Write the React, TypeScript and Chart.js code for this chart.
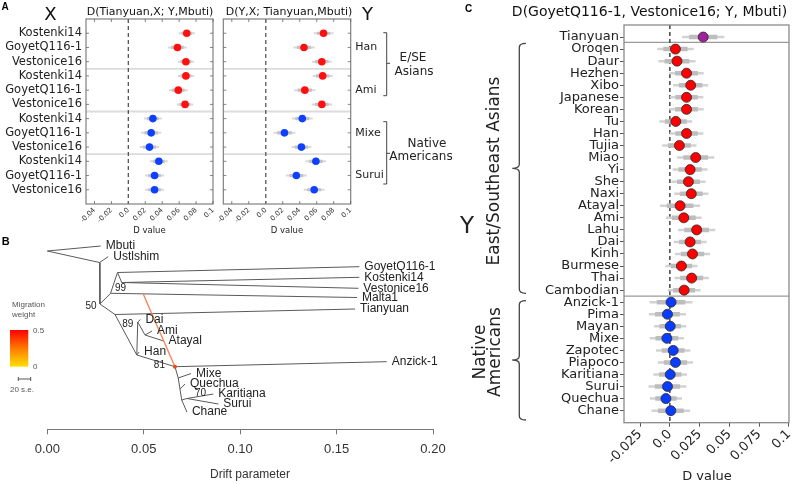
import React, { useEffect, useRef } from 'react';
import { Chart, registerables } from 'chart.js';

Chart.register(...registerables);

const DEJAVU = '"DejaVu Sans", "Liberation Sans", sans-serif';
const HELV = '"Liberation Sans", Arial, sans-serif';

/* ---------------- Panel A data ---------------- */
const aRowLabels = ['Kostenki14', 'GoyetQ116-1', 'Vestonice16', 'Kostenki14', 'GoyetQ116-1', 'Vestonice16',
  'Kostenki14', 'GoyetQ116-1', 'Vestonice16', 'Kostenki14', 'GoyetQ116-1', 'Vestonice16'];
const aGroupLabels = ['Han', 'Ami', 'Mixe', 'Surui'];
const aRowRegion = ['asia', 'asia', 'asia', 'asia', 'asia', 'asia', 'america', 'america', 'america', 'america', 'america', 'america'];
const aLeftValues = [0.069, 0.058, 0.068, 0.068, 0.059, 0.067, 0.029, 0.027, 0.025, 0.036, 0.031, 0.031];
const aLeftSE = [0.0032, 0.0037, 0.0032, 0.0032, 0.0037, 0.0032, 0.0035, 0.004, 0.0038, 0.0035, 0.0037, 0.0037];
const aRightValues = [0.068, 0.045, 0.066, 0.067, 0.046, 0.066, 0.043, 0.022, 0.042, 0.059, 0.036, 0.057];
const aRightSE = [0.0039, 0.0042, 0.0039, 0.0039, 0.0042, 0.004, 0.0041, 0.0043, 0.0039, 0.004, 0.0041, 0.0041];
const aXTicks = [-0.04, -0.02, 0, 0.02, 0.04, 0.06, 0.08, 0.1];
const aXTickLabels = ['-0.04', '-0.02', '0.0', '0.02', '0.04', '0.06', '0.08', '0.1'];
const aSeparators = [2.5, 5.5, 8.5];

/* ---------------- Panel B data (TreeMix tree) ---------------- */
const treeNodes = ['root', 'Mbuti', 'nA', 'Ustlshim', 'n50', 'nB', 'nC', 'nD', 'GoyetQ116-1', 'Kostenki14', 'Vestonice16',
  'Malta1', 'nE', 'Tianyuan', 'nG', 'n89', 'Dai', 'nH', 'Ami', 'Atayal', 'Han', 'n81', 'Anzick-1', 'nI', 'Mixe', 'nJ',
  'Quechua', 'nK', 'n70', 'Karitiana', 'Surui', 'Chane'];
const treeDrift = [0, 0.0277, 0.0271, 0.0316, 0.0273, 0.0328, 0.0364, 0.0386, 0.1618, 0.1618, 0.1613, 0.1606, 0.0351,
  0.1596, 0.0464, 0.0469, 0.0483, 0.0507, 0.0543, 0.0603, 0.0476, 0.0662, 0.176, 0.0679, 0.0745, 0.0688, 0.0714,
  0.0697, 0.0724, 0.0861, 0.0887, 0.0724];
const treeY = [1.1, 0.6, 2.25, 1.67, 6.4, 5.33, 3.25, 4.25, 2.67, 3.73, 4.83, 5.75, 7.45, 6.9, 11.5, 8.2, 7.95, 9.5, 9.1,
  10.1, 11.2, 12.67, 12.17, 13.8, 13.35, 14.9, 14.4, 16.0, 15.85, 15.4, 16.4, 17.2];
const treeParents = ['root', 'root', 'nA', 'nA', 'n50', 'n50', 'nB', 'nB', 'nC', 'nC', 'nD', 'nD', 'nE', 'nE', 'nG', 'nG',
  'nG', 'n89', 'n89', 'nH', 'nH', 'n81', 'n81', 'nI', 'nI', 'nJ', 'nJ', 'nK', 'nK', 'n70', 'n70'];
const treeChildren = ['Mbuti', 'nA', 'Ustlshim', 'n50', 'nB', 'nE', 'nC', 'Malta1', 'GoyetQ116-1', 'nD', 'Kostenki14',
  'Vestonice16', 'Tianyuan', 'nG', 'n89', 'Han', 'n81', 'Dai', 'nH', 'Ami', 'Atayal', 'Anzick-1', 'nI', 'Mixe', 'nJ',
  'Quechua', 'nK', 'n70', 'Chane', 'Karitiana', 'Surui'];
const migrationSourceDrift = 0.0498;
const migrationSourceY = 5.43;
const migrationTarget = 'n81';
const supportTexts = ['50', '99', '89', '81', '70'];
const supportDrift = [0.0256, 0.0351, 0.0446, 0.061, 0.0766];
const supportY = [6.67, 4.85, 8.4, 12.5, 15.33];
const supportAlign = ['right', 'left', 'right', 'right', 'left'];
const driftTicks = [0, 0.05, 0.1, 0.15, 0.2];

/* ---------------- Panel C data ---------------- */
const cLabels = ['Tianyuan', 'Oroqen', 'Daur', 'Hezhen', 'Xibo', 'Japanese', 'Korean', 'Tu', 'Han', 'Tujia', 'Miao', 'Yi',
  'She', 'Naxi', 'Atayal', 'Ami', 'Lahu', 'Dai', 'Kinh', 'Burmese', 'Thai', 'Cambodian', 'Anzick-1', 'Pima', 'Mayan',
  'Mixe', 'Zapotec', 'Piapoco', 'Karitiana', 'Surui', 'Quechua', 'Chane'];
const cGroup = ['ancient', 'asia', 'asia', 'asia', 'asia', 'asia', 'asia', 'asia', 'asia', 'asia', 'asia', 'asia', 'asia',
  'asia', 'asia', 'asia', 'asia', 'asia', 'asia', 'asia', 'asia', 'asia', 'america', 'america', 'america', 'america',
  'america', 'america', 'america', 'america', 'america', 'america'];
const cValues = [0.028, 0.0047, 0.006, 0.014, 0.0175, 0.014, 0.014, 0.005, 0.014, 0.008, 0.0217, 0.017, 0.0156, 0.018,
  0.0086, 0.0117, 0.0225, 0.017, 0.019, 0.0097, 0.0183, 0.012, 0.001, -0.002, 0.0003, -0.0025, 0.0028, 0.0047, 0.0003,
  -0.002, -0.0033, 0.0008];
const cSE = [0.0059, 0.0051, 0.0052, 0.0048, 0.0049, 0.0047, 0.0048, 0.0046, 0.0047, 0.0048, 0.0052, 0.0049, 0.0048,
  0.0048, 0.0056, 0.005, 0.0052, 0.0046, 0.0049, 0.0045, 0.0048, 0.0046, 0.006, 0.0052, 0.0045, 0.0048, 0.0048, 0.0049,
  0.0047, 0.0053, 0.0045, 0.0054];
const cXTicks = [-0.025, 0, 0.025, 0.05, 0.075, 0.1];
const cXTickLabels = ['-0.025', '0.0', '0.025', '0.05', '0.075', '0.1'];
const cSeparators = [0.45, 21.5];

/* ---------------- helpers ---------------- */
type Pt = { x: number; y: number | null };

function errorBars(values: number[], se: number[], k: number): Pt[] {
  const pts: Pt[] = [];
  values.forEach((v, i) => {
    pts.push({ x: v - k * se[i], y: i }, { x: v + k * se[i], y: i }, { x: v, y: null });
  });
  return pts;
}

function hLines(rows: number[], xmin: number, xmax: number): Pt[] {
  const pts: Pt[] = [];
  rows.forEach((r) => {
    pts.push({ x: xmin, y: r }, { x: xmax, y: r }, { x: xmin, y: null });
  });
  return pts;
}

function txt(ctx: CanvasRenderingContext2D, s: string, x: number, y: number, font: string, color = '#222',
  align: CanvasTextAlign = 'center', baseline: CanvasTextBaseline = 'middle', rot = 0) {
  ctx.save();
  ctx.font = font;
  ctx.fillStyle = color;
  ctx.textAlign = align;
  ctx.textBaseline = baseline;
  ctx.translate(x, y);
  if (rot) ctx.rotate(rot);
  ctx.fillText(s, 0, 0);
  ctx.restore();
}

function seg(ctx: CanvasRenderingContext2D, x1: number, y1: number, x2: number, y2: number) {
  ctx.beginPath();
  ctx.moveTo(x1, y1);
  ctx.lineTo(x2, y2);
  ctx.stroke();
}

const RED = '#ff1010';
const BLUE = '#1040ff';

/* ---------------- Panel A config ---------------- */
function panelA(side: 'left' | 'right'): any {
  const values = side === 'left' ? aLeftValues : aRightValues;
  const se = side === 'left' ? aLeftSE : aRightSE;
  const colors = aRowRegion.map((r) => (r === 'asia' ? RED : BLUE));
  const rows = values.map((_, i) => i);
  const padLeft = side === 'left' ? 0 : 223.3;
  const padRight = side === 'left' ? 800 - 213 : 800 - 350.7;

  const framePlugin = {
    id: 'frameA' + side,
    afterDatasetsDraw(chart: any) {
      const { ctx, chartArea: a, scales } = chart;
      ctx.save();
      ctx.strokeStyle = '#808080';
      ctx.lineWidth = 1.2;
      ctx.strokeRect(a.left, a.top, a.right - a.left, a.bottom - a.top);
      ctx.lineWidth = 0.8;
      ctx.strokeStyle = '#666';
      aXTicks.forEach((v) => {
        const x = scales.x.getPixelForValue(v);
        seg(ctx, x, a.bottom, x, a.bottom - 3);
        seg(ctx, x, a.top, x, a.top + 3);
      });
      rows.forEach((r) => {
        const y = scales.y.getPixelForValue(r);
        seg(ctx, a.left, y, a.left + 3, y);
        seg(ctx, a.right, y, a.right - 3, y);
      });
      ctx.restore();
    },
    afterDraw(chart: any) {
      const { ctx, chartArea: a, scales } = chart;
      const cx = (a.left + a.right) / 2;
      txt(ctx, 'D value', cx, 231, `8.5px ${DEJAVU}`, '#222');
      if (side === 'left') {
        txt(ctx, 'A', 1.5, 10, `bold 10px ${HELV}`, '#000', 'left', 'alphabetic');
        txt(ctx, 'X', 50.5, 15, `18px ${DEJAVU}`, '#111');
        txt(ctx, 'D(Tianyuan,X; Y,Mbuti)', 150, 12, `11px ${DEJAVU}`, '#111');
      } else {
        txt(ctx, 'D(Y,X; Tianyuan,Mbuti)', 289, 12, `11px ${DEJAVU}`, '#111');
        txt(ctx, 'Y', 367.5, 15, `18px ${DEJAVU}`, '#111');
        aGroupLabels.forEach((g, i) => {
          txt(ctx, g, a.right + 4.5, scales.y.getPixelForValue(i * 3 + 1), `11px ${DEJAVU}`, '#222', 'left');
        });
        ctx.save();
        ctx.strokeStyle = '#444';
        ctx.lineWidth = 1;
        const brackets = [[32.7, 95.7, 63.3], [121.7, 184, 153.3]];
        brackets.forEach(([t, b, m]) => {
          ctx.beginPath();
          ctx.moveTo(383.3, t);
          ctx.lineTo(386.7, t);
          ctx.lineTo(386.7, b);
          ctx.lineTo(383.3, b);
          ctx.moveTo(386.7, m);
          ctx.lineTo(390, m);
          ctx.stroke();
        });
        ctx.restore();
        txt(ctx, 'E/SE', 413, 57.5, `12px ${DEJAVU}`, '#222');
        txt(ctx, 'Asians', 414, 71.5, `12px ${DEJAVU}`, '#222');
        txt(ctx, 'Native', 427, 144, `12px ${DEJAVU}`, '#222');
        txt(ctx, 'Americans', 421, 157, `12px ${DEJAVU}`, '#222');
      }
    },
  };

  return {
    type: 'scatter',
    data: {
      datasets: [
        { data: values.map((v, i) => ({ x: v, y: i })), pointRadius: 3.8, pointBackgroundColor: colors, pointBorderWidth: 0, order: 0 },
        { data: errorBars(values, se, 2), showLine: true, pointRadius: 0, borderColor: '#c2c2c2', borderWidth: 3.2, order: 1 },
        { data: errorBars(values, se, 3), showLine: true, pointRadius: 0, borderColor: '#d9d9d9', borderWidth: 2, order: 2 },
        { data: [{ x: 0, y: -1 }, { x: 0, y: 12 }], showLine: true, pointRadius: 0, borderColor: '#555', borderWidth: 1.3, borderDash: [4, 3], order: 3 },
        { data: hLines(aSeparators, -0.05, 0.1), showLine: true, pointRadius: 0, borderColor: '#dcdcdc', borderWidth: 1.8, order: 4 },
      ],
    },
    options: {
      responsive: false,
      animation: false,
      events: [],
      layout: { padding: { top: 19, right: padRight, left: padLeft, bottom: 484 - 240 } },
      plugins: { legend: { display: false }, tooltip: { enabled: false } },
      scales: {
        x: {
          type: 'linear', min: -0.05, max: 0.1,
          afterBuildTicks: (s: any) => { s.ticks = aXTicks.map((v) => ({ value: v })); },
          afterFit: (s: any) => { s.height = 36; },
          ticks: {
            autoSkip: false, minRotation: 45, maxRotation: 45, padding: 2,
            font: { size: 7, family: DEJAVU }, color: '#333',
            callback: (_v: any, i: number) => aXTickLabels[i],
          },
          grid: { display: false, drawTicks: false, tickLength: 0 }, border: { display: false },
        },
        y: {
          type: 'linear', reverse: true, min: -1, max: 12, display: side === 'left',
          afterBuildTicks: (s: any) => { s.ticks = rows.map((v) => ({ value: v })); },
          afterFit: (s: any) => { s.width = side === 'left' ? 86 : 0; },
          ticks: {
            autoSkip: false, padding: 4, font: { size: 11.5, family: DEJAVU }, color: '#222',
            callback: (v: any) => aRowLabels[v],
          },
          grid: { display: false, drawTicks: false, tickLength: 0 }, border: { display: false },
        },
      },
    },
    plugins: [framePlugin],
  };
}

/* ---------------- Panel B config ---------------- */
function panelB(): any {
  const idx = (n: string) => treeNodes.indexOf(n);
  const edgePts: Pt[] = [];
  treeParents.forEach((p, i) => {
    const c = treeChildren[i];
    edgePts.push({ x: treeDrift[idx(p)], y: treeY[idx(p)] }, { x: treeDrift[idx(c)], y: treeY[idx(c)] }, { x: treeDrift[idx(c)], y: null });
  });
  const leaves = treeNodes.filter((n) => n !== 'root' && !treeParents.includes(n));
  const t = idx(migrationTarget);

  const plugin = {
    id: 'treeText',
    afterDraw(chart: any) {
      const { ctx, scales } = chart;
      const X = (v: number) => scales.x.getPixelForValue(v);
      const Y = (v: number) => scales.y.getPixelForValue(v);
      txt(ctx, 'B', 1.7, 245, `bold 11px ${HELV}`, '#000', 'left', 'alphabetic');
      leaves.forEach((n) => {
        const i = idx(n);
        txt(ctx, n, X(treeDrift[i]) + 5, Y(treeY[i]), `12px ${HELV}`, '#222', 'left');
      });
      supportTexts.forEach((s, i) => {
        txt(ctx, s, X(supportDrift[i]), Y(supportY[i]), `10px ${HELV}`, '#222', supportAlign[i] as CanvasTextAlign);
      });
      // migration weight legend
      txt(ctx, 'Migration', 12, 305, `8px ${HELV}`, '#555', 'left');
      txt(ctx, 'weight', 12, 315, `8px ${HELV}`, '#555', 'left');
      const g = ctx.createLinearGradient(0, 330, 0, 366.7);
      g.addColorStop(0, '#ff0000');
      g.addColorStop(0.5, '#ff7a00');
      g.addColorStop(1, '#ffe000');
      ctx.fillStyle = g;
      ctx.fillRect(10, 330, 18.3, 36.7);
      txt(ctx, '0.5', 33, 331, `8px ${HELV}`, '#555', 'left');
      txt(ctx, '0', 33, 366.5, `8px ${HELV}`, '#555', 'left');
      ctx.save();
      ctx.strokeStyle = '#555';
      ctx.lineWidth = 1;
      seg(ctx, 18.3, 379, 30.7, 379);
      seg(ctx, 18.3, 377, 18.3, 381);
      seg(ctx, 30.7, 377, 30.7, 381);
      ctx.restore();
      txt(ctx, '20 s.e.', 10, 390, `8px ${HELV}`, '#555', 'left');
      txt(ctx, 'Drift parameter', 250, 475, `12px ${HELV}`, '#333');
    },
  };

  return {
    type: 'scatter',
    data: {
      datasets: [
        {
          data: [{ x: migrationSourceDrift, y: migrationSourceY }, { x: treeDrift[t], y: treeY[t] }],
          showLine: true, borderColor: '#f5875f', borderWidth: 1.4, pointRadius: [0, 2],
          pointBackgroundColor: '#e84a1a', pointBorderWidth: 0, clip: false, order: 0,
        },
        { data: edgePts, showLine: true, pointRadius: 0, borderColor: '#5a5a5a', borderWidth: 1, clip: false, order: 1 },
      ],
    },
    options: {
      responsive: false,
      animation: false,
      events: [],
      layout: { padding: { top: 240, right: 800 - 433, left: 47.3, bottom: 0 } },
      plugins: { legend: { display: false }, tooltip: { enabled: false } },
      scales: {
        x: {
          type: 'linear', min: 0, max: 0.2,
          afterBuildTicks: (s: any) => { s.ticks = driftTicks.map((v) => ({ value: v })); },
          afterFit: (s: any) => { s.height = 54.7; },
          ticks: {
            autoSkip: false, maxRotation: 0, minRotation: 0, padding: 7,
            font: { size: 13, family: HELV }, color: '#333',
            callback: (v: any) => Number(v).toFixed(2),
          },
          grid: { display: true, drawOnChartArea: false, drawTicks: true, tickLength: 5, color: '#777' },
          border: { display: true, color: '#777', width: 1 },
        },
        y: { type: 'linear', reverse: true, min: 0, max: 18.93, display: false },
      },
    },
    plugins: [plugin],
  };
}

/* ---------------- Panel C config ---------------- */
function panelC(): any {
  const rows = cValues.map((_, i) => i);
  const colors = cGroup.map((g) => (g === 'ancient' ? '#a1209c' : g === 'asia' ? '#ff0000' : '#0a3cff'));

  const plugin = {
    id: 'cText',
    afterDatasetsDraw(chart: any) {
      const { ctx, chartArea: a } = chart;
      ctx.save();
      ctx.strokeStyle = '#8a8a8a';
      ctx.lineWidth = 1.3;
      ctx.strokeRect(a.left, a.top, a.right - a.left, a.bottom - a.top);
      ctx.restore();
    },
    afterDraw(chart: any) {
      const { ctx } = chart;
      txt(ctx, 'C', 465, 12, `bold 10px ${HELV}`, '#000', 'left', 'alphabetic');
      txt(ctx, 'D(GoyetQ116-1, Vestonice16; Y, Mbuti)', 649.5, 12, `14px ${DEJAVU}`, '#111');
      txt(ctx, 'Y', 467, 227, `23px ${DEJAVU}`, '#222');
      txt(ctx, 'East/Southeast Asians', 495, 171, `17px ${DEJAVU}`, '#222', 'center', 'middle', -Math.PI / 2);
      txt(ctx, 'Native', 481, 352, `17px ${DEJAVU}`, '#222', 'center', 'middle', -Math.PI / 2);
      txt(ctx, 'Americans', 496, 352, `17px ${DEJAVU}`, '#222', 'center', 'middle', -Math.PI / 2);
      txt(ctx, 'D value', 707, 477, `13px ${DEJAVU}`, '#222');
      ctx.save();
      ctx.strokeStyle = '#444';
      ctx.lineWidth = 1.3;
      const braces = [[43.3, 293.3, 168.3], [300.7, 420, 360]];
      braces.forEach(([t, b, m]) => {
        const x = 519.3;
        ctx.beginPath();
        ctx.moveTo(526, t);
        ctx.quadraticCurveTo(x, t, x, t + 4);
        ctx.lineTo(x, m - 4);
        ctx.quadraticCurveTo(x, m, x - 7, m);
        ctx.quadraticCurveTo(x, m, x, m + 4);
        ctx.lineTo(x, b - 4);
        ctx.quadraticCurveTo(x, b, 526, b);
        ctx.stroke();
      });
      ctx.restore();
    },
  };

  return {
    type: 'scatter',
    data: {
      datasets: [
        { data: cValues.map((v, i) => ({ x: v, y: i })), pointRadius: 5, pointBackgroundColor: colors, pointBorderColor: '#2a2a2a', pointBorderWidth: 0.8, order: 0 },
        { data: errorBars(cValues, cSE, 2), showLine: true, pointRadius: 0, borderColor: '#bdbdbd', borderWidth: 4.5, order: 1 },
        { data: errorBars(cValues, cSE, 3), showLine: true, pointRadius: 0, borderColor: '#d2d2d2', borderWidth: 2.5, order: 2 },
        { data: [{ x: 0, y: -1 }, { x: 0, y: 32 }], showLine: true, pointRadius: 0, borderColor: '#444', borderWidth: 1.5, borderDash: [4, 3], order: 3 },
        { data: hLines(cSeparators, -0.0385, 0.1), showLine: true, pointRadius: 0, borderColor: '#9a9a9a', borderWidth: 1.2, order: 4 },
      ],
    },
    options: {
      responsive: false,
      animation: false,
      events: [],
      layout: { padding: { top: 25, right: 10, left: 455, bottom: 0 } },
      plugins: { legend: { display: false }, tooltip: { enabled: false } },
      scales: {
        x: {
          type: 'linear', min: -0.0385, max: 0.1,
          afterBuildTicks: (s: any) => { s.ticks = cXTicks.map((v) => ({ value: v })); },
          afterFit: (s: any) => { s.height = 61.3; },
          ticks: {
            autoSkip: false, minRotation: 45, maxRotation: 45, padding: 0,
            font: { size: 13, family: DEJAVU }, color: '#222',
            callback: (_v: any, i: number) => cXTickLabels[i],
          },
          grid: { display: true, drawOnChartArea: false, drawTicks: true, tickLength: 4, color: '#555' },
          border: { display: false },
        },
        y: {
          type: 'linear', reverse: true, min: -1, max: 32,
          afterBuildTicks: (s: any) => { s.ticks = rows.map((v) => ({ value: v })); },
          afterFit: (s: any) => { s.width = 169; },
          ticks: {
            autoSkip: false, padding: 1, font: { size: 13, family: DEJAVU }, color: '#222',
            callback: (v: any) => cLabels[v],
          },
          grid: { display: true, drawOnChartArea: false, drawTicks: true, tickLength: 4, color: '#555' },
          border: { display: false },
        },
      },
    },
    plugins: [plugin],
  };
}

export default function App() {
  const r1 = useRef<HTMLCanvasElement>(null);
  const r2 = useRef<HTMLCanvasElement>(null);
  const r3 = useRef<HTMLCanvasElement>(null);
  const r4 = useRef<HTMLCanvasElement>(null);

  useEffect(() => {
    const charts = [
      new Chart(r1.current as HTMLCanvasElement, panelA('left')),
      new Chart(r2.current as HTMLCanvasElement, panelA('right')),
      new Chart(r3.current as HTMLCanvasElement, panelB()),
      new Chart(r4.current as HTMLCanvasElement, panelC()),
    ];
    return () => charts.forEach((c) => c.destroy());
  }, []);

  const cs: React.CSSProperties = { position: 'absolute', left: 0, top: 0, width: 800, height: 484 };
  return (
    <div style={{ position: 'absolute', left: 0, top: 0, width: 800, height: 484, background: '#fff', overflow: 'hidden' }}>
      <canvas ref={r1} width={800} height={484} style={cs} />
      <canvas ref={r2} width={800} height={484} style={cs} />
      <canvas ref={r3} width={800} height={484} style={cs} />
      <canvas ref={r4} width={800} height={484} style={cs} />
    </div>
  );
}
